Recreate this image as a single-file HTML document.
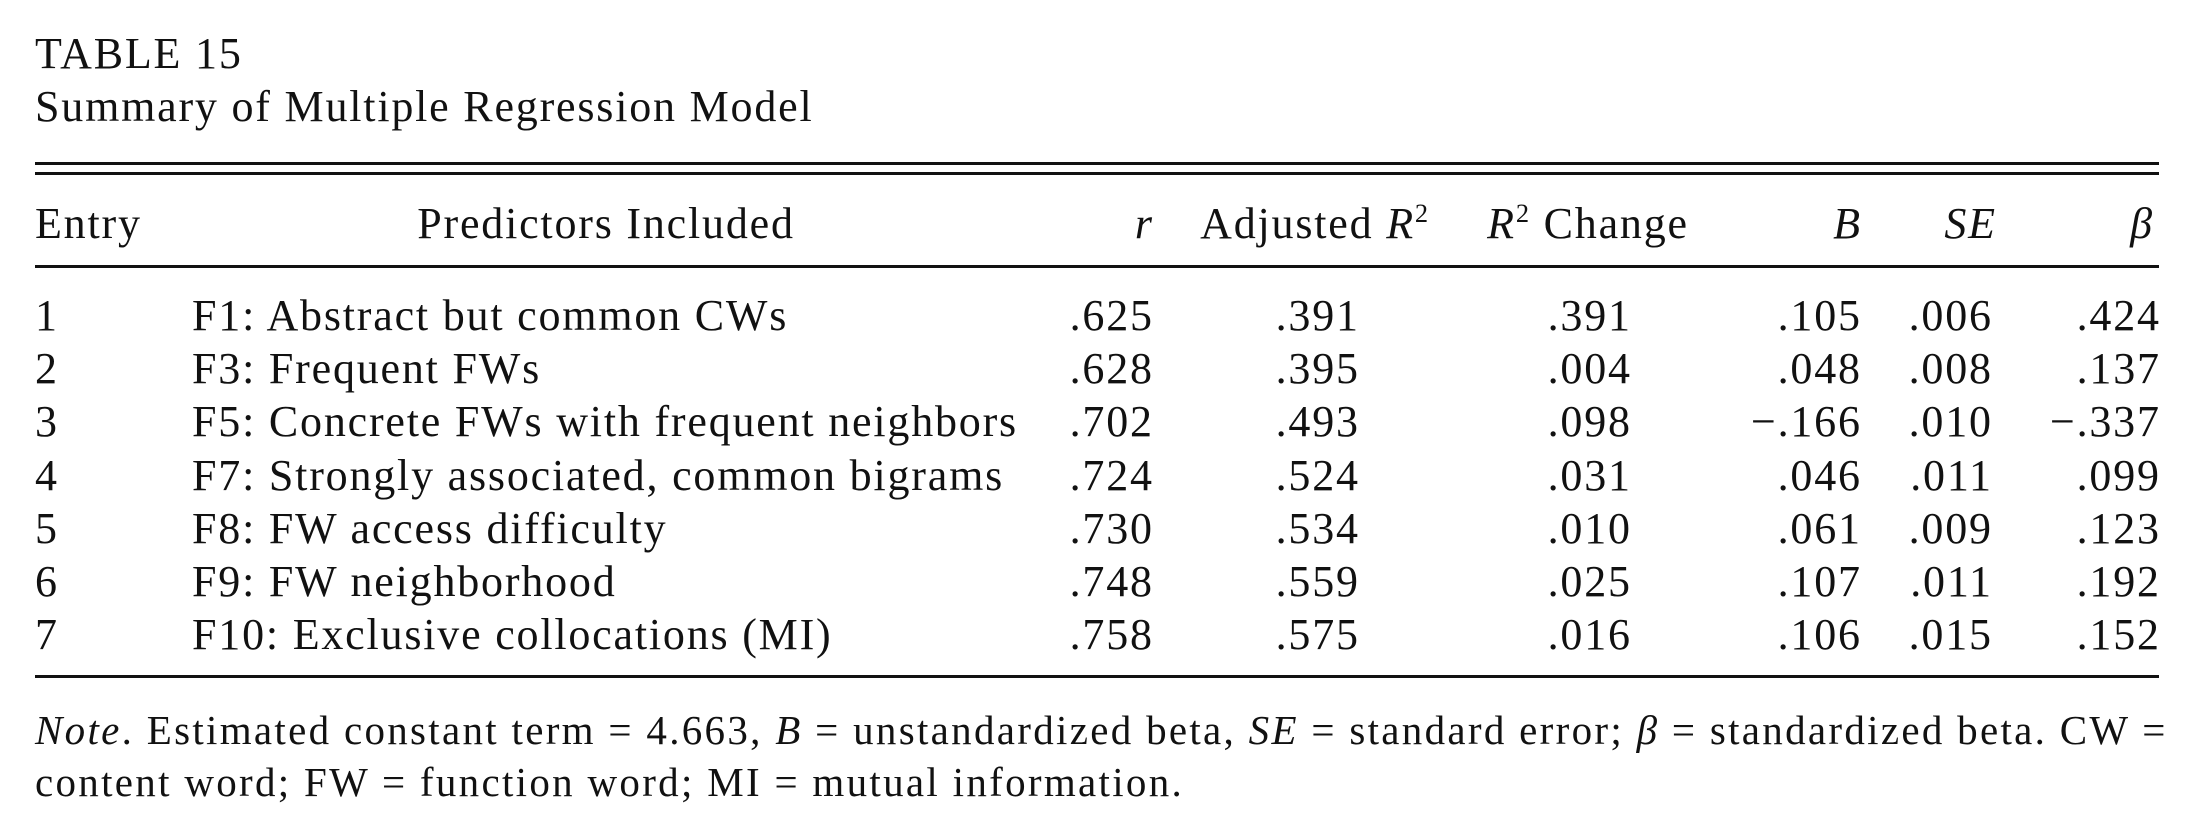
<!DOCTYPE html>
<html><head><meta charset="utf-8"><style>
body{margin:0;width:2198px;height:830px;background:#fff;position:relative;overflow:hidden;font-family:"Liberation Serif",serif;color:#111;font-size:44px;letter-spacing:1.8px}
.t{position:absolute;white-space:nowrap;line-height:1}
.r{position:absolute;white-space:nowrap;line-height:1;text-align:right;margin-right:-1.8px}
.rule{position:absolute;left:35px;width:2124px;background:#111}
.n{font-size:41px;letter-spacing:2.3px}
i{font-style:italic}
sup{font-size:60%;vertical-align:0;position:relative;top:-16px}
</style></head><body>
<div class="t" style="left:35px;top:32px">TABLE 15</div>
<div class="t" style="left:35px;top:85px">Summary of Multiple Regression Model</div>
<div class="rule" style="top:162px;height:3px"></div>
<div class="rule" style="top:172px;height:3px"></div>
<div class="t" style="left:35px;top:202px">Entry</div>
<div class="t" style="left:606px;top:202px;transform:translateX(-50%)">Predictors Included</div>
<div class="r" style="right:1046px;top:202px"><i>r</i></div>
<div class="t" style="left:1315px;top:202px;transform:translateX(-50%)">Adjusted <i>R</i><sup>2</sup></div>
<div class="t" style="left:1588px;top:202px;transform:translateX(-50%)"><i>R</i><sup>2</sup> Change</div>
<div class="r" style="right:338px;top:202px"><i>B</i></div>
<div class="r" style="right:203px;top:202px"><i>SE</i></div>
<div class="r" style="right:46px;top:202px"><i>β</i></div>
<div class="rule" style="top:265px;height:3px"></div>
<div id="rows"></div>
<div class="rule" style="top:675px;height:3px"></div>
<div class="t n" style="left:35px;top:710px"><i>Note</i>. Estimated constant term = 4.663, <i>B</i> = unstandardized beta, <i>SE</i> = standard error; <i>β</i> = standardized beta. CW =</div>
<div class="t n" style="left:35px;top:762px">content word; FW = function word; MI = mutual information.</div>
<script>
var d=[["1","F1: Abstract but common CWs",".625",".391",".391",".105",".006",".424"],
["2","F3: Frequent FWs",".628",".395",".004",".048",".008",".137"],
["3","F5: Concrete FWs with frequent neighbors",".702",".493",".098","−.166",".010","−.337"],
["4","F7: Strongly associated, common bigrams",".724",".524",".031",".046",".011",".099"],
["5","F8: FW access difficulty",".730",".534",".010",".061",".009",".123"],
["6","F9: FW neighborhood",".748",".559",".025",".107",".011",".192"],
["7","F10: Exclusive collocations (MI)",".758",".575",".016",".106",".015",".152"]];
var rights=[1046,840,568,338,207,39],h="";
d.forEach(function(r,i){var y=294+i*53.2;
h+='<div class="t" style="left:35px;top:'+y+'px">'+r[0]+'</div><div class="t" style="left:192px;top:'+y+'px">'+r[1]+'</div>';
for(var k=0;k<6;k++)h+='<div class="r" style="right:'+rights[k]+'px;top:'+y+'px">'+r[k+2]+'</div>';});
document.getElementById("rows").innerHTML=h;
</script>
</body></html>
